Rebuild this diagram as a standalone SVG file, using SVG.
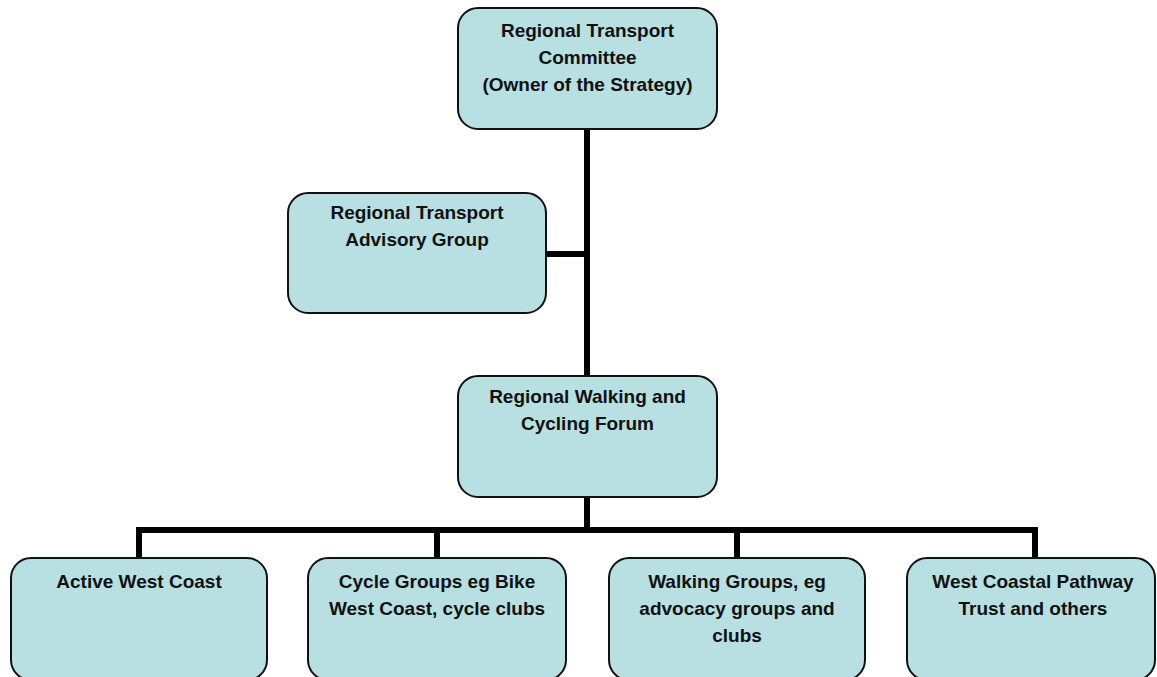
<svg xmlns="http://www.w3.org/2000/svg" width="1157" height="677" viewBox="0 0 1157 677">
  <style>
    .box { fill: #b8dfe1; stroke: #111; stroke-width: 2; }
    .lbl { font-family: "Liberation Sans", Arial, sans-serif; font-weight: bold; font-size: 19px; fill: #111; text-anchor: middle; }
    .conn { stroke: #000; stroke-width: 6; fill: none; stroke-linecap: square; }
  </style>
  <rect width="1157" height="677" fill="#ffffff"/>
  <g id="connectors">
    <line class="conn" x1="587" y1="129" x2="587" y2="530"/>
    <line class="conn" x1="546" y1="254" x2="587" y2="254"/>
    <polyline class="conn" points="139,557 139,530 1035,530 1035,557"/>
    <line class="conn" x1="437" y1="530" x2="437" y2="557"/>
    <line class="conn" x1="737" y1="530" x2="737" y2="557"/>
  </g>
  <g id="node-rtc">
    <rect class="box" x="458" y="8" width="259" height="121" rx="20"/>
    <text class="lbl" x="587.5" y="37">Regional Transport</text>
    <text class="lbl" x="587.5" y="64">Committee</text>
    <text class="lbl" x="587.5" y="91">(Owner of the Strategy)</text>
  </g>
  <g id="node-rtag">
    <rect class="box" x="288" y="193" width="258" height="120" rx="20"/>
    <text class="lbl" x="417" y="219">Regional Transport</text>
    <text class="lbl" x="417" y="246">Advisory Group</text>
  </g>
  <g id="node-forum">
    <rect class="box" x="458" y="376" width="259" height="121" rx="20"/>
    <text class="lbl" x="587.5" y="403">Regional Walking and</text>
    <text class="lbl" x="587.5" y="430">Cycling Forum</text>
  </g>
  <g id="node-awc">
    <rect class="box" x="11" y="558" width="256" height="122" rx="20"/>
    <text class="lbl" x="139" y="588">Active West Coast</text>
  </g>
  <g id="node-cycle">
    <rect class="box" x="308" y="558" width="258" height="122" rx="20"/>
    <text class="lbl" x="437" y="588">Cycle Groups eg Bike</text>
    <text class="lbl" x="437" y="615">West Coast, cycle clubs</text>
  </g>
  <g id="node-walking">
    <rect class="box" x="609" y="558" width="256" height="122" rx="20"/>
    <text class="lbl" x="737" y="588">Walking Groups, eg</text>
    <text class="lbl" x="737" y="615">advocacy groups and</text>
    <text class="lbl" x="737" y="642">clubs</text>
  </g>
  <g id="node-wcpt">
    <rect class="box" x="907" y="558" width="248" height="122" rx="20"/>
    <text class="lbl" x="1033" y="588">West Coastal Pathway</text>
    <text class="lbl" x="1033" y="615">Trust and others</text>
  </g>
</svg>
